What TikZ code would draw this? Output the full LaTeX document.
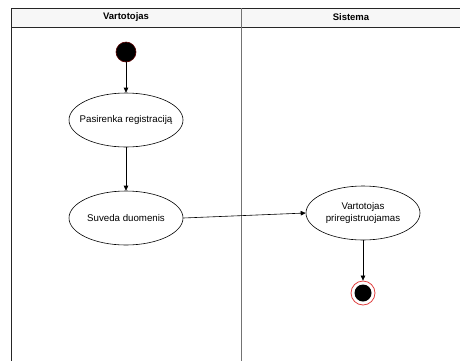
\documentclass[tikz,border=0pt]{standalone}
\usepackage{fontspec}
\setmainfont{Liberation Sans}
\usetikzlibrary{arrows.meta,shapes.geometric}
\definecolor{lanegray}{HTML}{F7F7F7}
\definecolor{startred}{HTML}{5A0000}
\definecolor{endred}{HTML}{E04040}
\begin{document}
\begin{tikzpicture}[x=1pt,y=-1pt,
  lane/.style={draw=black!85,line width=0.9pt},
  activity/.style={ellipse,draw,line width=0.6pt,minimum width=114pt,minimum height=54pt,
    inner xsep=-14pt,inner ysep=0pt,align=center,font=\fontsize{9.7}{11.5}\selectfont},
  flow/.style={-{Triangle[length=5pt,width=4.5pt]},line width=0.6pt},
  header/.style={font=\bfseries\fontsize{9.5}{11}\selectfont}]
  \useasboundingbox (0,0) rectangle (460,360);
  % swimlane frame
  \fill[lanegray] (11,8) rectangle (462,27);
  \draw[lane] (11,362) -- (11,8) -- (462,8);
  \draw[lane] (11,27) -- (462,27);
  \draw[draw=black!55,line width=1pt] (241,8) -- (241,362);
  \node[header] (h1) at (126,17.5) {Vartotojas};
  \node[header] (h2) at (351,17.5) {Sistema};
  % start and end states
  \node[circle,fill=black,draw=startred,line width=0.6pt,minimum size=20pt,inner sep=0pt] (start) at (126,52) {};
  \node[activity] (a1) at (126,120) {Pasirenka registraciją};
  \node[activity] (a2) at (126,218) {Suveda duomenis};
  \node[activity] (a3) at (363,213) {Vartotojas\\priregistruojamas};
  \node[circle,draw=endred,fill=white,line width=0.8pt,minimum size=24pt,inner sep=0pt] (end) at (363,293) {};
  \node[circle,fill=black,minimum size=17pt,inner sep=0pt] (endin) at (end) {};
  % control flow
  \draw[flow] (start) -- (a1);
  \draw[flow] (a1) -- (a2);
  \draw[flow] (a2.east) -- (a3.west);
  \draw[flow] (a3) -- (end);
\end{tikzpicture}
\end{document}
